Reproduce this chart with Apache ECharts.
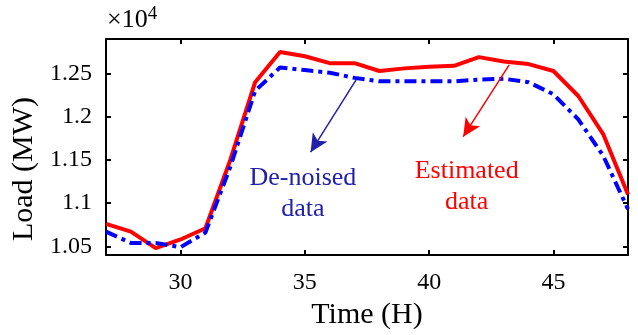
<!DOCTYPE html>
<html>
<head>
<meta charset="utf-8">
<script src="https://cdn.jsdelivr.net/npm/echarts@6/dist/echarts.min.js"></script>
<style>
  html, body { margin: 0; padding: 0; background: #fff; }
  #chart { width: 638px; height: 335px; }
</style>
</head>
<body>
<div id="chart"></div>
<script>
// hours on the x axis
const hours = [27, 28, 29, 30, 31, 32, 33, 34, 35, 36, 37, 38, 39, 40, 41, 42, 43, 44, 45, 46, 47, 48];
// load, in units of 10^4 MW
const estimated = [1.076, 1.067, 1.048, 1.058, 1.071, 1.150, 1.240, 1.275, 1.270, 1.262, 1.262, 1.253, 1.256, 1.258, 1.259, 1.269, 1.264, 1.261, 1.253, 1.224, 1.180, 1.110];
const denoised = [1.067, 1.054, 1.054, 1.049, 1.066, 1.142, 1.230, 1.257, 1.254, 1.251, 1.245, 1.241, 1.241, 1.241, 1.241, 1.243, 1.244, 1.240, 1.226, 1.197, 1.155, 1.093];
const xTicks = [30, 35, 40, 45];
const yTicks = [1.05, 1.1, 1.15, 1.2, 1.25];

const font = 'Liberation Serif';
const chart = echarts.init(document.getElementById('chart'));

const boxAxis = {
  axisLine: { show: true, lineStyle: { color: '#000', width: 2 } },
  axisTick: { show: true, inside: true, length: 5, lineStyle: { color: '#000', width: 2 } },
  splitLine: { show: false }
};

chart.setOption({
  animation: false,
  grid: { left: 106, right: 10, top: 39, bottom: 80 },
  xAxis: [
    {
      type: 'value', min: 27, max: 48,
      ...boxAxis,
      axisTick: { ...boxAxis.axisTick, customValues: xTicks },
      axisLabel: { customValues: xTicks, color: '#000', fontFamily: font, fontSize: 24, margin: 16 },
      name: 'Time (H)', nameLocation: 'middle', nameGap: 42,
      nameTextStyle: { color: '#000', fontFamily: font, fontSize: 30 }
    },
    {
      type: 'value', min: 27, max: 48, position: 'top',
      ...boxAxis,
      axisTick: { ...boxAxis.axisTick, customValues: xTicks },
      axisLabel: { show: false }
    }
  ],
  yAxis: [
    {
      type: 'value', min: 1.04, max: 1.29,
      ...boxAxis,
      axisTick: { ...boxAxis.axisTick, customValues: yTicks },
      axisLabel: {
        customValues: yTicks, color: '#000', fontFamily: font, fontSize: 24, margin: 14,
        formatter: v => String(+(+v).toFixed(2))
      },
      name: 'Load (MW)', nameLocation: 'middle', nameGap: 58,
      nameTextStyle: { color: '#000', fontFamily: font, fontSize: 30, padding: [0, 44, 0, 0] }
    },
    {
      type: 'value', min: 1.04, max: 1.29, position: 'right',
      ...boxAxis,
      axisTick: { ...boxAxis.axisTick, customValues: yTicks },
      axisLabel: { show: false }
    }
  ],
  graphic: [
    {
      type: 'text', left: 107, top: 5,
      style: {
        text: '{a|×10}{b|4}',
        rich: {
          a: { fontFamily: font, fontSize: 26, fill: '#000' },
          b: { fontFamily: font, fontSize: 19, fill: '#000', verticalAlign: 'top', padding: [0, 0, 12, 0] }
        }
      }
    }
  ],
  series: [
    {
      name: 'Estimated data',
      type: 'line',
      data: hours.map((h, i) => [h, estimated[i]]),
      symbol: 'none',
      lineStyle: { color: '#ff0000', width: 4 },
      z: 3,
      markLine: {
        silent: true,
        symbol: ['none', 'arrow'],
        symbolSize: [13, 18],
        label: { show: false },
        lineStyle: { color: '#ff0000', width: 1.5, type: 'solid' },
        data: [[{ coord: [43.22, 1.26] }, { coord: [41.37, 1.177] }]]
      },
      markPoint: {
        silent: true,
        symbol: 'circle', symbolSize: 0,
        label: {
          show: true, position: 'inside', formatter: 'Estimated\ndata',
          color: '#ff0000', fontFamily: font, fontSize: 26, lineHeight: 31, align: 'center'
        },
        data: [{ coord: [41.51, 1.1186] }]
      }
    },
    {
      name: 'De-noised data',
      type: 'line',
      data: hours.map((h, i) => [h, denoised[i]]),
      symbol: 'none',
      lineStyle: { color: '#0000ff', width: 4, type: [12, 5, 4, 5], cap: 'butt' },
      z: 4,
      markLine: {
        silent: true,
        symbol: ['none', 'arrow'],
        symbolSize: [13, 18],
        label: { show: false },
        lineStyle: { color: '#2020aa', width: 1.5, type: 'solid' },
        data: [[{ coord: [37.08, 1.2436] }, { coord: [35.23, 1.159] }]]
      },
      markPoint: {
        silent: true,
        symbol: 'circle', symbolSize: 0,
        label: {
          show: true, position: 'inside', formatter: 'De-noised\ndata',
          color: '#2020aa', fontFamily: font, fontSize: 26, lineHeight: 31, align: 'center'
        },
        data: [{ coord: [34.92, 1.1106] }]
      }
    }
  ]
});
</script>
</body>
</html>
